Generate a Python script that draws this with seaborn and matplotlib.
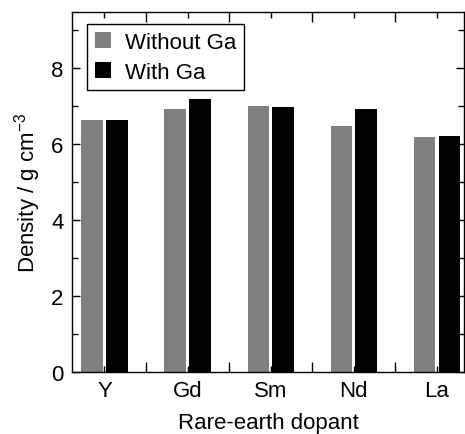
import matplotlib
matplotlib.use("Agg")
import matplotlib.pyplot as plt
import seaborn as sns
import pandas as pd
from matplotlib.ticker import FixedLocator, MultipleLocator

dopants = ["Y", "Gd", "Sm", "Nd", "La"]
without_ga = [6.62, 6.92, 7.01, 6.47, 6.18]
with_ga = [6.64, 7.18, 6.98, 6.93, 6.21]
series_names = ["Without Ga", "With Ga"]
colors = ["#808080", "#000000"]

df = pd.DataFrame({
    "dopant": dopants * 2,
    "density": without_ga + with_ga,
    "series": [series_names[0]] * len(dopants) + [series_names[1]] * len(dopants),
})

sns.set_style("ticks")
plt.rcParams["font.family"] = ["Liberation Sans", "DejaVu Sans"]
plt.rcParams["mathtext.fontset"] = "custom"
plt.rcParams["mathtext.rm"] = "Liberation Sans"
plt.rcParams["mathtext.it"] = "Liberation Sans"
plt.rcParams["text.color"] = "black"
plt.rcParams["axes.labelcolor"] = "black"
plt.rcParams["xtick.color"] = "black"
plt.rcParams["ytick.color"] = "black"

FS = 16

fig = plt.figure(figsize=(4.65, 4.35), dpi=100)
ax = fig.add_axes([0.155, 0.1425, 0.843, 0.8275])

sns.barplot(data=df, x="dopant", y="density", hue="series", order=dopants,
            hue_order=series_names, palette=colors, width=0.6, gap=0.15,
            dodge=True, linewidth=0, saturation=1, ax=ax)

ax.set_xlim(-0.39, 4.33)
ax.set_ylim(0, 9.47)
ax.yaxis.set_major_locator(FixedLocator([0, 2, 4, 6, 8]))
ax.yaxis.set_minor_locator(MultipleLocator(1))
ax.set_xticks(range(len(dopants)))
ax.set_xticklabels(dopants)
ax.xaxis.set_minor_locator(FixedLocator([0.5, 1.5, 2.5, 3.5]))

for s in ax.spines.values():
    s.set_visible(True)
    s.set_linewidth(1.0)
    s.set_color("black")

ax.tick_params(axis="both", which="both", direction="in", top=True, right=True,
               width=1.0, color="black", labelcolor="black")
ax.tick_params(axis="x", which="major", length=4, labelsize=FS, pad=6)
ax.tick_params(axis="x", which="minor", length=7)
ax.tick_params(axis="y", which="major", length=6, labelsize=FS, pad=6)
ax.tick_params(axis="y", which="minor", length=4)

ax.set_xlabel("Rare-earth dopant", fontsize=FS, labelpad=8)
ax.set_ylabel("Density / g cm$^{-3}$", fontsize=FS, labelpad=6)

leg = ax.legend(loc="upper left", bbox_to_anchor=(0.038, 0.967), borderaxespad=0,
                fontsize=FS, frameon=True, fancybox=False, handlelength=0.75,
                handleheight=0.75, handletextpad=0.6, borderpad=0.35,
                labelspacing=0.4, title=None)
leg.get_frame().set_edgecolor("black")
leg.get_frame().set_linewidth(1.0)
leg.get_frame().set_alpha(1)

fig.savefig("out.png", dpi=100)
